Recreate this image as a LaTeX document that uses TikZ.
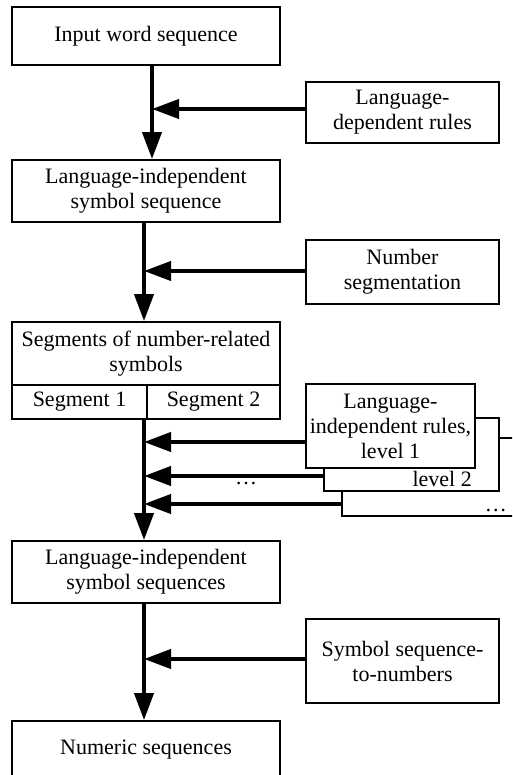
\documentclass[tikz,border=0pt]{standalone}
\usepackage{fontspec}
\setmainfont{Liberation Serif}
\usetikzlibrary{arrows.meta}

\begin{document}
\begin{tikzpicture}[x = 1pt, y = -1pt,
	box/.style = {draw, line width = 1.8pt, fill = white, align = center, inner sep = 0pt,
		font = \fontsize{22}{25}\selectfont},
	flow/.style = {line width = 4pt, -{Triangle[length = 27pt, width = 19pt]}}]
	\useasboundingbox (0, 0) rectangle (512, 775);
	\clip (0, 0) rectangle (512, 775);
	
	% Main column
	\node[box, minimum width = 268pt, minimum height = 58pt] (input) at (146, 36) {Input word sequence};
	\node[box, minimum width = 268pt, minimum height = 62pt] (lisym) at (146, 191) {Language-independent\\symbol sequence};
	\node[box, minimum width = 268pt, minimum height = 63pt] (segs) at (146, 353.5) {Segments of number-related\\symbols};
	\node[box, minimum width = 135pt, minimum height = 34pt] (seg1) at (79.5, 402) {Segment 1};
	\node[box, minimum width = 133pt, minimum height = 34pt] (seg2) at (213.5, 402) {Segment 2};
	\node[box, minimum width = 268pt, minimum height = 62pt] (liseqs) at (146, 572) {Language-independent\\symbol sequences};
	\node[box, minimum width = 268pt, minimum height = 58pt] (numseq) at (146, 750) {Numeric sequences};
	
	% Rule boxes
	\node[box, minimum width = 193pt, minimum height = 61pt] (ldrules) at (402.5, 112.5) {Language-\\dependent rules};
	\node[box, minimum width = 193pt, minimum height = 64pt] (numseg) at (402.5, 272) {Number\\segmentation};
	\node[box, minimum width = 188pt, minimum height = 78pt] (lvl3) at (436, 477) {};
	\node[box, minimum width = 175pt, minimum height = 73pt] (lvl2) at (411.5, 454.5) {};
	\node[box, minimum width = 169pt, minimum height = 84pt] (lvl1) at (390.5, 426) {Language-\\independent rules,\\level 1};
	\node[box, minimum width = 193pt, minimum height = 84pt] (s2n) at (402.5, 661) {Symbol sequence-\\to-numbers};
	\node[font = \fontsize{22}{25}\selectfont, anchor = base east, inner sep = 0pt] (lvl2txt) at (472, 486) {level 2};
	\node[font = \fontsize{22}{25}\selectfont, anchor = base east, inner sep = 0pt] (lvl3txt) at (507, 511) {\ldots};
	
	% Junctions on the main line
	\coordinate (j1) at (152, 109);
	\coordinate (j2) at (144, 271);
	\coordinate (j3) at (144, 442);
	\coordinate (j4) at (144, 476);
	\coordinate (j5) at (144, 504);
	\coordinate (j6) at (144, 659);
	
	% Edges
	\draw[flow] (input.south -| j1) -- (lisym.north -| j1);
	\draw[flow] (ldrules.west |- j1) -- (j1);
	\draw[flow] (lisym.south -| j2) -- (segs.north -| j2);
	\draw[flow] (numseg.west |- j2) -- (j2);
	\draw[flow] (seg1.south -| j3) -- (liseqs.north -| j3);
	\draw[flow] (lvl1.west |- j3) -- (j3);
	\draw[flow] (lvl2.west |- j4) -- (j4);
	\draw[flow] (lvl3.west |- j5) -- (j5);
	\draw[flow] (liseqs.south -| j6) -- (numseq.north -| j6);
	\draw[flow] (s2n.west |- j6) -- (j6);
	\node[font = \fontsize{22}{25}\selectfont, inner sep = 0pt] (dots) at (246, 484) {\ldots};
\end{tikzpicture}
\end{document}
